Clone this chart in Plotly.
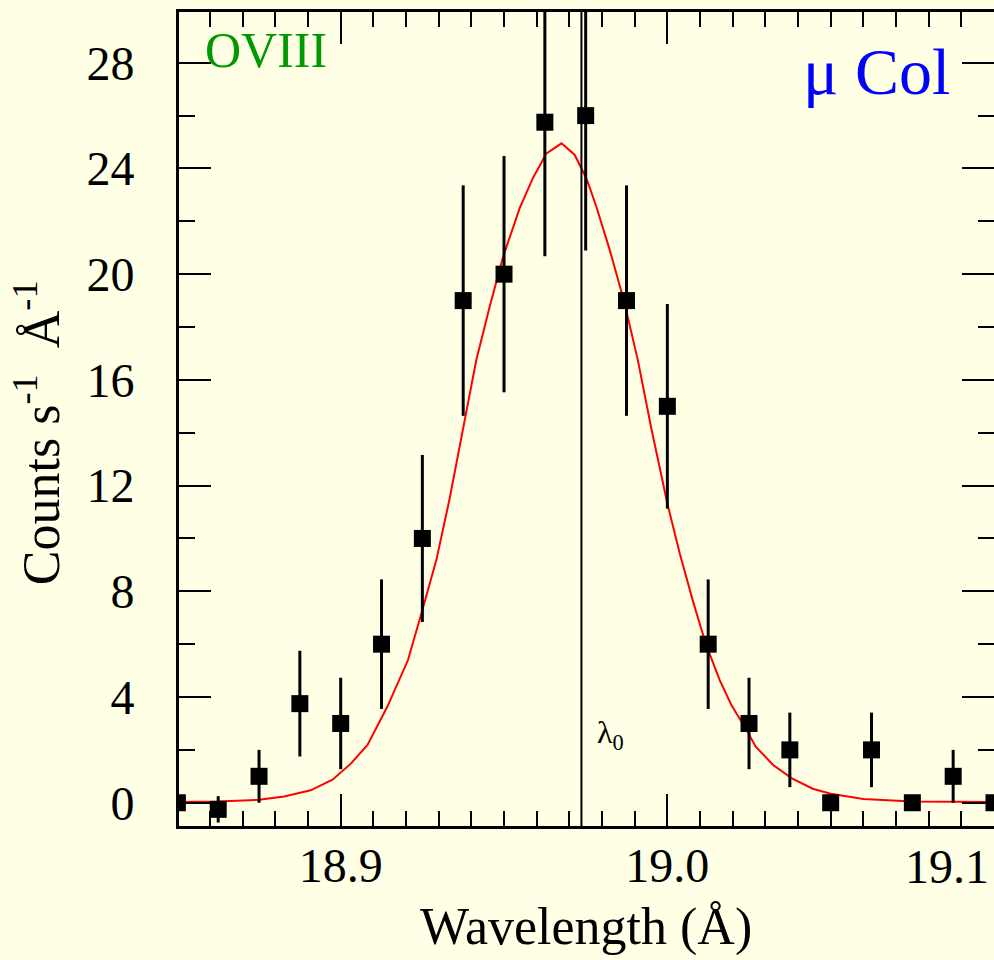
import plotly.graph_objects as go

# ---- data ----
wavelength = [18.85, 18.8625, 18.875, 18.8875, 18.9, 18.9125, 18.925, 18.9375,
              18.95, 18.9625, 18.975, 18.9875, 19.0, 19.0125, 19.025, 19.0375,
              19.05, 19.0625, 19.075, 19.0875, 19.1]
counts = [0.0, -0.25, 1.0, 3.75, 3.0, 6.0, 10.0, 19.0,
          20.0, 25.75, 26.0, 19.0, 15.0, 6.0, 3.0, 2.0,
          0.0, 2.0, 0.0, 1.0, 0.0]
errors = [0.0, 0.5, 1.0, 2.0, 1.73, 2.45, 3.16, 4.36,
          4.47, 5.07, 5.1, 4.36, 3.87, 2.45, 1.73, 1.41,
          0.0, 1.41, 0.0, 1.0, 0.0]

fit_x = [18.850, 18.8623, 18.875, 18.8827, 18.8908, 18.8975, 18.9031, 18.9082,
         18.9143, 18.9206, 18.9247, 18.9293, 18.9333, 18.9379, 18.9415, 18.9456,
         18.9497, 18.9548, 18.9589, 18.9630, 18.9676, 18.9716, 18.9752, 18.9783,
         18.9824, 18.9867, 18.9910, 18.9951, 19.0000, 19.0038, 19.0079, 19.0118,
         19.0160, 19.0196, 19.0242, 19.0270, 19.0323, 19.0380, 19.0445, 19.0500,
         19.0600, 19.0750, 19.1000]
fit_y = [0.03, 0.05, 0.11, 0.24, 0.47, 0.87, 1.48, 2.19,
         3.64, 5.40, 7.16, 9.19, 11.48, 14.45, 16.74, 18.77,
         20.65, 22.50, 23.65, 24.57, 24.95, 24.52, 23.63, 22.54,
         20.90, 19.00, 16.73, 14.16, 11.32, 9.43, 7.60, 6.00,
         4.65, 3.70, 2.76, 2.13, 1.44, 0.93, 0.53, 0.34,
         0.14, 0.05, 0.03]

lambda0 = 18.9737

x_ticks = [18.9, 19.0, 19.1]
x_ticktext = ["18.9", "19.0", ""]
y_ticks = [0, 4, 8, 12, 16, 20, 24, 28]

x_range = [18.8505, 19.1]
y_range = [-0.88, 29.92]

BG = "#FFFFE6"
FONT = "Liberation Serif"

fig = go.Figure()

fig.add_trace(go.Scatter(
    x=fit_x, y=fit_y, mode="lines",
    line=dict(color="#FF0000", width=2),
    showlegend=False, hoverinfo="skip"))

fig.add_trace(go.Scatter(
    x=wavelength, y=counts, mode="markers",
    marker=dict(symbol="square", size=17, color="black"),
    error_y=dict(type="data", array=errors, visible=True,
                 thickness=3, width=0, color="black"),
    cliponaxis=True,
    showlegend=False))

fig.add_shape(type="line", xref="x", yref="paper",
              x0=lambda0, x1=lambda0, y0=0, y1=1,
              line=dict(color="black", width=2))

axis_common = dict(
    showgrid=False, zeroline=False,
    showline=True, linecolor="black", linewidth=3,
    mirror="allticks",
    ticks="inside", tickcolor="black", tickwidth=2, ticklen=32,
    tickfont=dict(family=FONT, size=48, color="black"),
)

fig.update_xaxes(
    range=x_range, tickvals=x_ticks, ticktext=x_ticktext,
    ticklabelstandoff=-5,
    minor=dict(dtick=0.01, tick0=18.85, ticks="inside", ticklen=15,
               tickwidth=2, tickcolor="black", showgrid=False),
    **axis_common)

fig.update_yaxes(
    range=y_range, tickvals=y_ticks,
    ticklabelstandoff=32,
    minor=dict(dtick=2, tick0=0, ticks="inside", ticklen=16,
               tickwidth=2, tickcolor="black", showgrid=False),
    **axis_common)

annotations = [
    dict(text="OVIII", xref="paper", yref="paper", x=0.0294, y=0.9533,
         xanchor="left", yanchor="middle", showarrow=False,
         font=dict(family=FONT, size=50, color="#009900")),
    dict(text="μ Col", xref="paper", yref="paper", x=0.9485, y=0.9269,
         xanchor="right", yanchor="middle", showarrow=False,
         font=dict(family=FONT, size=66, color="#0000FF")),
    dict(text="λ<sub>0</sub>", xref="x", yref="y", x=lambda0, y=2.6,
         xanchor="left", yanchor="middle", xshift=14, showarrow=False,
         font=dict(family=FONT, size=32, color="black")),
    dict(text="19.1", xref="x", yref="paper", x=19.1, y=0, yshift=-12,
         xanchor="center", yanchor="top", xshift=-47, showarrow=False,
         font=dict(family=FONT, size=48, color="black")),
    dict(text="Wavelength (Å)", xref="paper", yref="paper", x=0.4988, y=-0.1245,
         xanchor="center", yanchor="middle", showarrow=False,
         font=dict(family=FONT, size=52, color="black")),
    dict(text="Counts s<sup>-1</sup>  Å<sup>-1</sup>", xref="paper", yref="paper",
         x=-0.174, y=0.4828, xanchor="center", yanchor="middle",
         textangle=-90, showarrow=False,
         font=dict(family=FONT, size=52, color="black")),
]

fig.update_layout(
    width=994, height=960,
    margin=dict(l=179, r=0, t=12, b=134, autoexpand=False),
    paper_bgcolor=BG, plot_bgcolor=BG,
    annotations=annotations,
    showlegend=False,
)

fig.write_html("out.html")
